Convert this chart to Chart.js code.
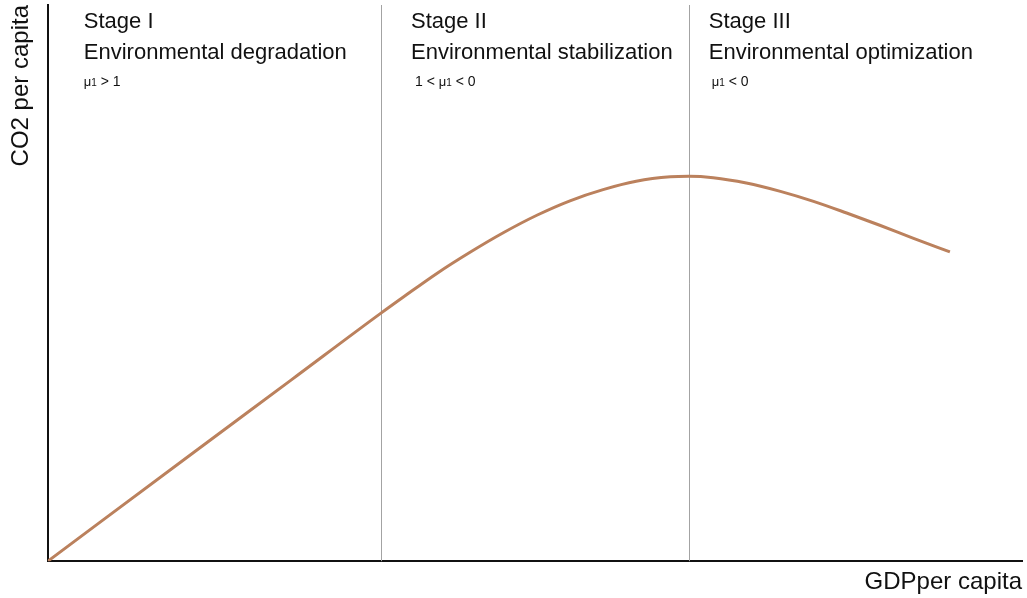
<!DOCTYPE html>
<html>
<head>
<meta charset="utf-8">
<script src="https://cdn.jsdelivr.net/npm/chart.js@4/dist/chart.umd.min.js"></script>
<style>
  html, body { margin: 0; padding: 0; background: #fff; }
  #wrap { width: 1027px; height: 598px; position: relative; }
</style>
</head>
<body>
<div id="wrap"><canvas id="ekc"></canvas></div>
<script>
/* Kurve: GDP pro Kopf (x) gegen CO2 pro Kopf (y), beide ohne Einheit 0..100 */
const gdp = [0, 15, 25, 34.2, 36.5, 39.9, 43.3, 46.8, 50.2, 53.6, 57.0, 60.4, 63.9, 65.8,
             68.3, 71.7, 75.2, 78.6, 82.0, 85.4, 88.8, 92.6];
const co2 = [0, 19.6, 32.6, 44.6, 47.5, 51.7, 55.5, 59.1, 62.2, 64.8, 66.8, 68.3, 69.1, 69.2,
             68.95, 68.0, 66.5, 64.7, 62.6, 60.4, 58.1, 55.6];

/* Grenzen zwischen den Phasen (x-Werte) */
const stageBounds = [34.2, 65.8];
const stageNames = ['Stage I', 'Stage II', 'Stage III'];
const stageTitles = ['Environmental degradation', 'Environmental stabilization', 'Environmental optimization'];
const stageConditions = ['μ1 > 1', '1 < μ1 < 0', 'μ1 < 0'];

const FONT = '"Liberation Sans", Arial, sans-serif';

/* Text mit kleinem μ1 zeichnen */
function drawCondition(ctx, text, x, y) {
  const parts = text.split('μ1');
  let cx = x;
  parts.forEach((p, i) => {
    if (p) {
      ctx.font = '14px ' + FONT;
      ctx.fillText(p, cx, y);
      cx += ctx.measureText(p).width;
    }
    if (i < parts.length - 1) {
      ctx.font = '13px ' + FONT;
      ctx.fillText('μ', cx, y);
      cx += ctx.measureText('μ').width;
      ctx.font = '10px ' + FONT;
      ctx.fillText('1', cx, y);
      cx += ctx.measureText('1').width;
    }
  });
}

const stagePlugin = {
  id: 'stages',
  beforeDatasetsDraw(chart) {
    const { ctx, chartArea, scales } = chart;
    ctx.save();
    ctx.strokeStyle = '#a3a3a3';
    ctx.lineWidth = 1;
    stageBounds.forEach(b => {
      const px = Math.round(scales.x.getPixelForValue(b)) + 0.5;
      ctx.beginPath();
      ctx.moveTo(px, chartArea.top);
      ctx.lineTo(px, chartArea.bottom);
      ctx.stroke();
    });
    ctx.restore();
  },
  afterDraw(chart, args, opts) {
    const { ctx, scales } = chart;
    const starts = [scales.x.min, ...stageBounds];
    ctx.save();
    ctx.fillStyle = '#111';
    ctx.textBaseline = 'alphabetic';
    ctx.textAlign = 'left';
    starts.forEach((s, i) => {
      const x0 = scales.x.getPixelForValue(s) + opts.offsets[i];
      ctx.font = '22px ' + FONT;
      ctx.fillText(stageNames[i], x0, 28);
      ctx.fillText(stageTitles[i], x0, 59);
      drawCondition(ctx, stageConditions[i], x0 + opts.condShift[i], 86);
    });
    ctx.restore();
  }
};

new Chart(document.getElementById('ekc'), {
  type: 'line',
  data: {
    datasets: [{
      data: gdp.map((x, i) => ({ x, y: co2[i] })),
      borderColor: 'rgb(187,129,93)',
      borderWidth: 3,
      pointRadius: 0,
      fill: false,
      cubicInterpolationMode: 'monotone',
    }],
  },
  options: {
    responsive: true, maintainAspectRatio: false, animation: false,
    layout: { padding: { top: 5, right: 5, left: 0, bottom: 0 } },
    plugins: {
      legend: { display: false },
      tooltip: { enabled: false },
      stages: { offsets: [36, 30, 20], condShift: [0, 4, 3] },
    },
    scales: {
      x: {
        type: 'linear', min: 0, max: 100,
        ticks: { display: false },
        grid: { display: false, drawTicks: false },
        border: { display: true, color: '#111', width: 2 },
        title: { display: true, text: 'GDPper capita', align: 'end', color: '#111',
                 font: { family: FONT, size: 24 }, padding: { top: 7, bottom: 1 } },
      },
      y: {
        min: 0, max: 100,
        ticks: { display: false },
        grid: { display: false, drawTicks: false },
        border: { display: true, color: '#111', width: 2 },
        title: { display: true, text: 'CO2 per capita', align: 'end', color: '#111',
                 font: { family: FONT, size: 24 }, padding: { top: 7, bottom: 12 } },
      },
    },
  },
  plugins: [stagePlugin],
});
</script>
</body>
</html>
